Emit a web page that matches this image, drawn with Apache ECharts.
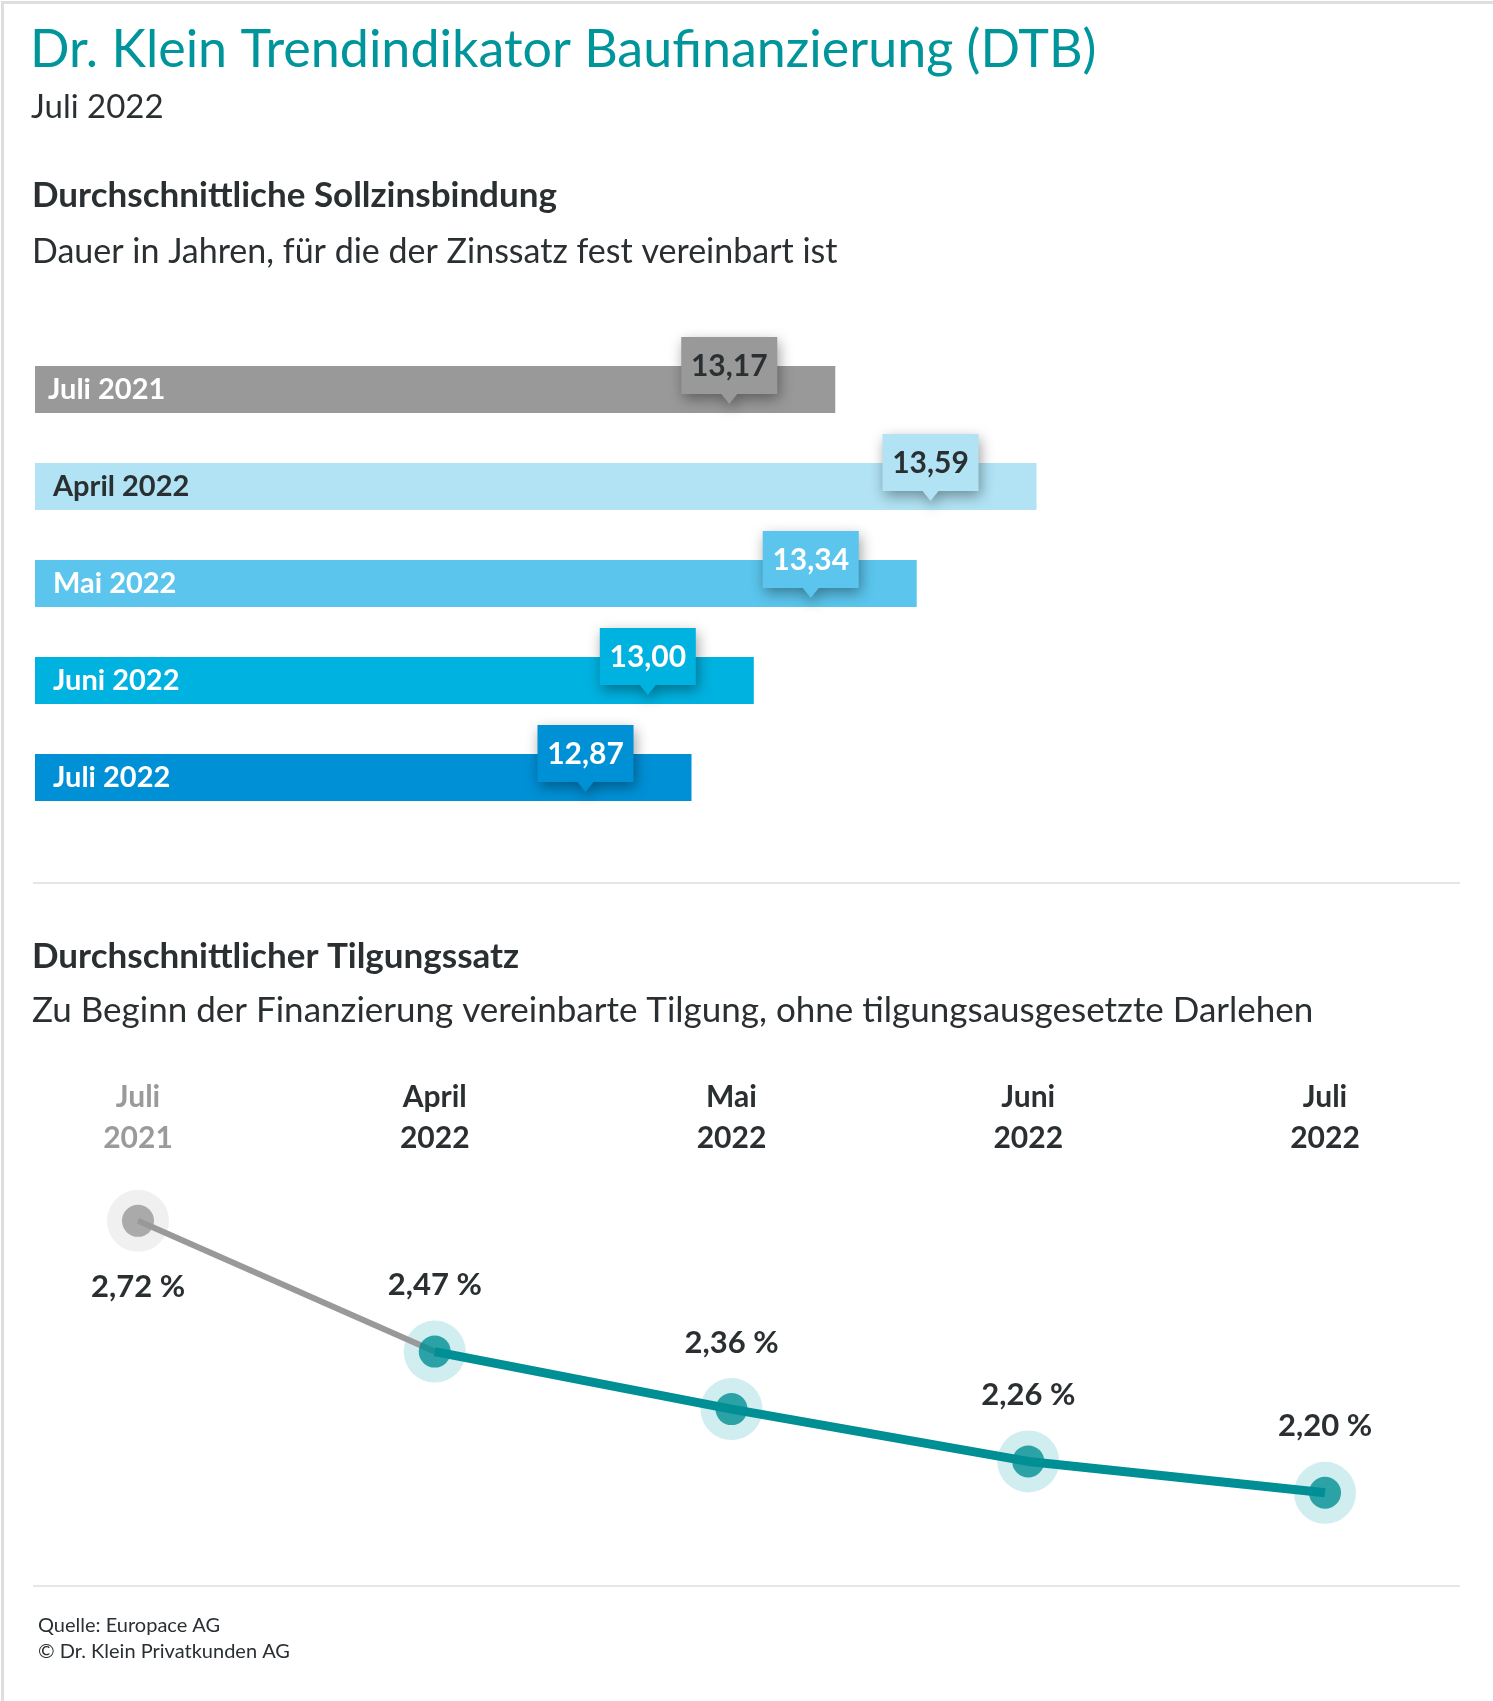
<!DOCTYPE html>
<html>
<head>
<meta charset="utf-8">
<script src="https://cdn.jsdelivr.net/npm/echarts@6/dist/echarts.min.js"></script>
<style>
html,body{margin:0;padding:0;background:#fff;}
#chart{width:1493px;height:1701px;}
</style>
</head>
<body>
<div id="chart"></div>
<script>
// ---- data ----
const barCategories = ['Juli 2021', 'April 2022', 'Mai 2022', 'Juni 2022', 'Juli 2022'];
const barValues = [13.17, 13.59, 13.34, 13.00, 12.87];
const lineCategories = ['Juli 2021', 'April 2022', 'Mai 2022', 'Juni 2022', 'Juli 2022'];
const lineValues = [2.72, 2.47, 2.36, 2.26, 2.20];

// ---- styles ----
const FONT = 'Lato, "Noto Sans", sans-serif';
const DARK = '#2a2f32';
const TEAL = '#00959b';
const barColors = ['#999999', '#b1e3f4', '#5bc5ed', '#00b2e0', '#0090d6'];
const barTextColors = ['#ffffff', DARK, '#ffffff', '#ffffff', '#ffffff'];
const calloutText = [DARK, DARK, '#ffffff', '#ffffff', '#ffffff'];
const haloColors = ['#ececec', '#c4e9ec', '#c4e9ec', '#c4e9ec', '#c4e9ec'];
const dotColors = ['#999999', '#008f94', '#008f94', '#008f94', '#008f94'];

const fmt = v => v.toFixed(2).replace('.', ',');

const chart = echarts.init(document.getElementById('chart'), null, {renderer: 'canvas'});

const text = (x, y, str, size, color, weight) => ({
  type: 'text', left: x, top: y - size * 0.47,
  style: {text: str, fill: color, font: (weight || 'normal') + ' ' + size + 'px ' + FONT}
});

const option = {
  backgroundColor: '#ffffff',
  animation: false,
  textStyle: {fontFamily: FONT},
  grid: [
    {left: 35, top: 341, width: 1198, height: 485},
    {left: 138, top: 1179, width: 1187, height: 418.4}
  ],
  xAxis: [
    {type: 'value', gridIndex: 0, min: 11.5, max: 14, show: false},
    {type: 'category', gridIndex: 1, position: 'top', boundaryGap: false, data: lineCategories,
      axisLine: {show: false}, axisTick: {show: false}, splitLine: {show: false},
      axisLabel: {
        margin: 20, fontSize: 30, fontWeight: 'bold', lineHeight: 41, fontFamily: FONT,
        formatter: v => v.replace(' ', '\n'),
        color: (v, i) => i === 0 ? '#9a9a9a' : DARK
      }}
  ],
  yAxis: [
    {type: 'category', gridIndex: 0, inverse: true, data: barCategories, show: false},
    {type: 'value', gridIndex: 1, min: 2.0, max: 2.8, show: false}
  ],
  series: [
    {
      type: 'bar', xAxisIndex: 0, yAxisIndex: 0, barWidth: 47,
      data: barValues.map((v, i) => ({
        value: v,
        itemStyle: {color: barColors[i]},
        label: {color: barTextColors[i], distance: i === 0 ? 13 : 18}
      })),
      label: {
        show: true, position: 'insideLeft', distance: 18,
        fontSize: 29, fontWeight: 'bold', fontFamily: FONT,
        formatter: p => barCategories[p.dataIndex]
      },
      z: 2
    },
    {
      type: 'custom', xAxisIndex: 0, yAxisIndex: 0,
      data: barValues.map((v, i) => [v, i]),
      encode: {x: 0, y: 1},
      renderItem: (params, api) => {
        const i = params.dataIndex;
        const pt = api.coord([api.value(0), api.value(1)]);
        const cx = pt[0] - 106, cy = pt[1] - 24;
        const w = 96, h = 57;
        const l = cx - w / 2, r = cx + w / 2, t = cy - h / 2, b = cy + h / 2;
        return {
          type: 'group',
          children: [
            {
              type: 'polygon',
              shape: {points: [[l, t], [r, t], [r, b], [cx + 8, b], [cx, b + 10], [cx - 8, b], [l, b]]},
              style: {fill: barColors[i], shadowBlur: 14, shadowColor: 'rgba(0,0,0,0.38)', shadowOffsetX: 2, shadowOffsetY: 5}
            },
            {
              type: 'text',
              style: {text: fmt(barValues[i]), x: cx, y: cy + 1, align: 'center', verticalAlign: 'middle',
                fill: calloutText[i], font: 'bold 30px ' + FONT}
            }
          ]
        };
      },
      z: 5
    },
    {
      type: 'scatter', xAxisIndex: 1, yAxisIndex: 1, symbolSize: 62, silent: true,
      data: lineValues.map((v, i) => ({value: v, itemStyle: {color: haloColors[i]}})),
      z: 1
    },
    {
      type: 'line', xAxisIndex: 1, yAxisIndex: 1, symbol: 'none',
      data: lineValues.map((v, i) => i <= 1 ? v : '-'),
      lineStyle: {color: '#999999', width: 6},
      z: 2
    },
    {
      type: 'line', xAxisIndex: 1, yAxisIndex: 1, symbol: 'none',
      data: lineValues.map((v, i) => i >= 1 ? v : '-'),
      lineStyle: {color: '#008f94', width: 9},
      z: 3
    },
    {
      type: 'scatter', xAxisIndex: 1, yAxisIndex: 1, symbolSize: 32,
      data: lineValues.map((v, i) => ({
        value: v,
        itemStyle: {color: dotColors[i]},
        label: {position: i === 0 ? 'bottom' : 'top'}
      })),
      label: {
        show: true, distance: 35, fontSize: 31, fontWeight: 700, color: DARK, fontFamily: FONT,
        textBorderWidth: 0, opacity: 1,
        formatter: p => fmt(p.value) + ' %'
      },
      z: 4
    }
  ],
  graphic: [
    {type: 'rect', left: 0, top: 0, shape: {width: 1492, height: 1700}, style: {fill: 'none', stroke: '#dedede', lineWidth: 3}, z: -1},
    text(30, 49, 'Dr. Klein Trendindikator Baufinanzierung (DTB)', 52, TEAL),
    text(31, 106, 'Juli 2022', 33, DARK),
    text(32, 195, 'Durchschnittliche Sollzinsbindung', 35, DARK, 'bold'),
    text(32, 251, 'Dauer in Jahren, für die der Zinssatz fest vereinbart ist', 34, DARK),
    {type: 'line', shape: {x1: 33, y1: 883, x2: 1460, y2: 883}, style: {stroke: '#e6e6e6', lineWidth: 2}},
    text(32, 956, 'Durchschnittlicher Tilgungssatz', 35, DARK, 'bold'),
    text(32, 1010, 'Zu Beginn der Finanzierung vereinbarte Tilgung, ohne tilgungsausgesetzte Darlehen', 35, DARK),
    {type: 'line', shape: {x1: 33, y1: 1586, x2: 1460, y2: 1586}, style: {stroke: '#e6e6e6', lineWidth: 2}},
    text(38, 1625, 'Quelle: Europace AG', 20, DARK),
    text(38, 1651, '© Dr. Klein Privatkunden AG', 20, DARK)
  ]
};
chart.setOption(option);
</script>
</body>
</html>
